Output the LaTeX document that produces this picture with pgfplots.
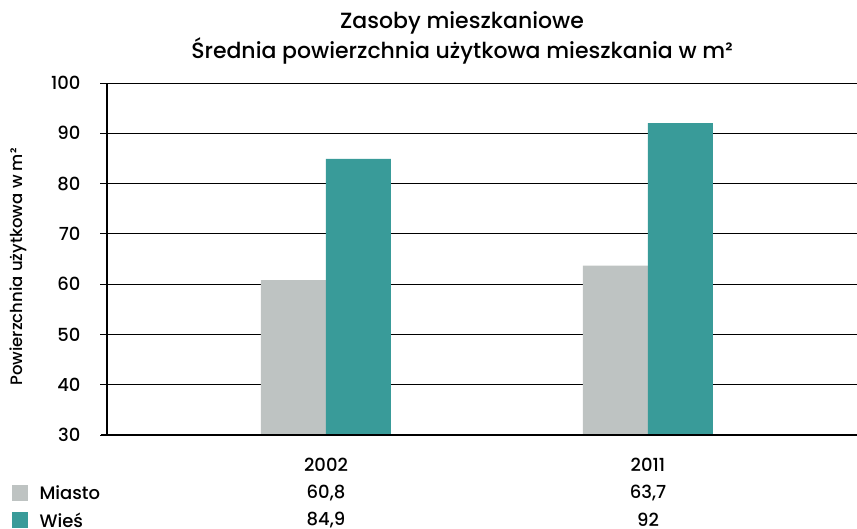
\documentclass[border=0pt]{standalone}
\usepackage{pgfplots}
\pgfplotsset{compat=1.18}
\usepackage{fontspec}
\setmainfont{Poppins}[UprightFont=* Medium]
\definecolor{miasto}{HTML}{BEC3C2}
\definecolor{wies}{HTML}{399B99}

\begin{document}
\begin{tikzpicture}[x=1pt,y=1pt]
  \path[use as bounding box] (0,0) rectangle (857,529);
  \begin{axis}[
    name=ax,
    at={(107pt,94pt)}, anchor=south west,
    width=750pt, height=352pt, scale only axis,
    ymin=30, ymax=100, ytick distance=10,
    xmin=-0.68, xmax=1.65,
    xtick=\empty,
    ytick pos=left,
    tick align=outside,
    major tick length=7pt,
    tick style={black, line width=0.8pt},
    ymajorgrids, grid style={black, line width=0.8pt},
    axis line style={draw=none},
    yticklabel style={font=\fontsize{18}{21}\selectfont, xshift=-16pt},
    /pgf/number format/assume math mode=true,
    ybar, bar width=0.202,
    clip=false,
  ]
    \addplot[fill=miasto, draw=none, bar shift=-0.101] coordinates {(0,60.8) (1,63.7)};
    \addplot[fill=wies, draw=none, bar shift=0.101] coordinates {(0,84.9) (1,92)};
  \end{axis}
  \draw[line width=2.5pt] ([xshift=-6pt]ax.south west) -- (ax.south east);
  \draw[line width=2pt] (ax.south west) -- (ax.north west);

  \begin{scope}[every node/.style={font=\fontsize{18}{21}\selectfont}]
    \node at (326,64) {2002};
    \node at (648,64) {2011};
    \fill[miasto] (12,28) rectangle (28,44);
    \node[anchor=west] at (36,36) {Miasto};
    \node at (326,36) {60,8};
    \node at (648,36) {63,7};
    \fill[wies] (12,1) rectangle (28,17);
    \node[anchor=west] at (36,9) {Wieś};
    \node at (326,9) {84,9};
    \node at (648,9) {92};
  \end{scope}

  \node[font=\fontsize{22}{26}\selectfont] at (462,506) {Zasoby mieszkaniowe};
  \node[font=\fontsize{22}{26}\selectfont] at (462,478) {Średnia powierzchnia użytkowa mieszkania w m²};
  \node[rotate=90, font=\fontsize{16.5}{20}\selectfont] at (18,262) {Powierzchnia użytkowa w m²};
\end{tikzpicture}
\end{document}
